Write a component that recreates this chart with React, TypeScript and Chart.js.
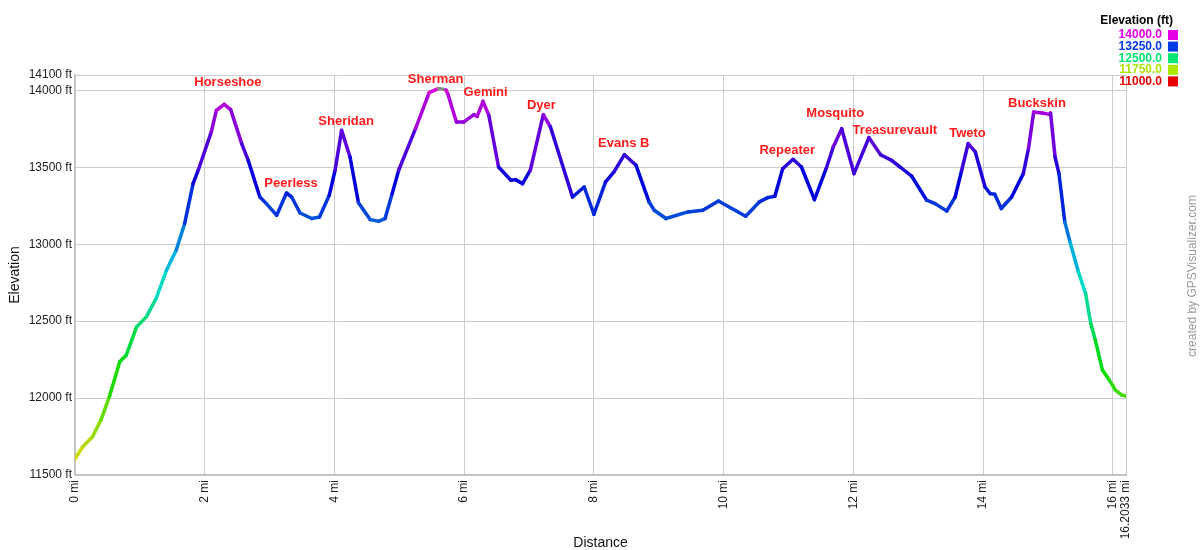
import { useEffect, useRef } from "react";
import { Chart, registerables } from "chart.js";

Chart.register(...registerables);

// Distance along the route (miles)
const distances = [
  0.0, 0.12, 0.27, 0.4, 0.53, 0.69, 0.79, 0.95, 1.1, 1.25, 1.41, 1.56, 1.69, 1.82, 1.9,
  2.1, 2.18, 2.3, 2.4, 2.57, 2.67, 2.85, 2.95, 3.11, 3.26, 3.34, 3.47, 3.65, 3.77, 3.92,
  4.01, 4.11, 4.24, 4.37, 4.55, 4.68, 4.78, 4.89, 4.99, 5.25, 5.46, 5.6, 5.67, 5.72, 5.75,
  5.88, 5.99, 6.15, 6.2, 6.29, 6.38, 6.53, 6.72, 6.79, 6.9, 7.02, 7.22, 7.33, 7.67, 7.85,
  8.0, 8.18, 8.31, 8.47, 8.65, 8.85, 8.93, 9.11, 9.45, 9.68, 9.92, 10.34, 10.55, 10.68,
  10.79, 10.91, 11.07, 11.2, 11.4, 11.58, 11.69, 11.82, 12.01, 12.24, 12.42, 12.59, 12.72,
  12.9, 13.13, 13.26, 13.44, 13.57, 13.67, 13.77, 13.88, 14.03, 14.11, 14.18, 14.28, 14.44,
  14.62, 14.7, 14.78, 14.91, 15.02, 15.04, 15.11, 15.17, 15.26, 15.34, 15.47, 15.58, 15.66,
  15.73, 15.84, 15.94, 16.04, 16.14, 16.2033,
];

// Elevation (ft)
const elevations = [
  11605, 11684, 11749, 11857, 12009, 12236, 12279, 12463, 12528, 12647, 12831, 12961, 13134, 13394, 13481,
  13729, 13870, 13909, 13875, 13654, 13545, 13307, 13264, 13188, 13333, 13307, 13203, 13167, 13177, 13318,
  13481, 13740, 13567, 13270, 13160, 13149, 13167, 13329, 13481, 13751, 13985, 14012, 14008, 14002, 13975,
  13794, 13794, 13842, 13831, 13929, 13838, 13502, 13416, 13420, 13394, 13481, 13842, 13762, 13307, 13372,
  13195, 13405, 13470, 13582, 13513, 13275, 13221, 13167, 13210, 13221, 13281, 13182, 13275, 13303,
  13312, 13491, 13552, 13502, 13290, 13491, 13632, 13751, 13459, 13693, 13582, 13545, 13502,
  13442, 13286, 13264, 13216, 13307, 13481, 13654, 13600, 13372, 13329, 13325, 13232, 13307,
  13459, 13621, 13859, 13853, 13844, 13853, 13567, 13459, 13145, 13015, 12820, 12680, 12485,
  12377, 12182, 12121, 12052, 12019, 12013,
];

const xTickValues = [0, 2, 4, 6, 8, 10, 12, 14, 16, 16.2033];
const yTickValues = [11500, 12000, 12500, 13000, 13500, 14000, 14100];

// Peak names and where their labels sit (miles, ft)
const peakNames = ["Horseshoe", "Peerless", "Sheridan", "Sherman", "Gemini", "Dyer", "Evans B", "Repeater", "Mosquito", "Treasurevault", "Tweto", "Buckskin"];
const peakLabelMiles = [2.357, 3.33, 4.18, 5.56, 6.33, 7.19, 8.46, 10.98, 11.72, 12.64, 13.76, 14.83];
const peakLabelElevs = [14052, 13396, 13799, 14071, 13987, 13903, 13656, 13610, 13851, 13740, 13721, 13916];

const legendValues = [14000, 13250, 12500, 11750, 11000];

const FONT = '"Liberation Sans", Arial, sans-serif';

function hueColor(e: number, light = 43): string {
  const hue = Math.max(0, Math.min(300, ((e - 11000) / 3000) * 300));
  return `hsl(${hue}, 100%, ${light}%)`;
}

function lineColor(e: number): string {
  if (e >= 14000) return "#8c8c8c";
  return hueColor(e, 43);
}

const overlayPlugin = {
  id: "overlay",
  afterDraw(chart: any) {
    const ctx = chart.ctx as CanvasRenderingContext2D;
    const xs = chart.scales.x;
    const ys = chart.scales.y;
    ctx.save();
    // peak labels
    ctx.font = `bold 13px ${FONT}`;
    ctx.fillStyle = "#ff1a1a";
    ctx.textAlign = "center";
    ctx.textBaseline = "middle";
    peakNames.forEach((n, i) => {
      ctx.fillText(n, xs.getPixelForValue(peakLabelMiles[i]), ys.getPixelForValue(peakLabelElevs[i]));
    });

    // axis titles
    ctx.fillStyle = "#111";
    ctx.font = `14px ${FONT}`;
    ctx.textAlign = "center";
    ctx.fillText("Distance", (chart.chartArea.left + chart.chartArea.right) / 2, 543);
    ctx.save();
    ctx.translate(15, 275);
    ctx.rotate(-Math.PI / 2);
    ctx.fillText("Elevation", 0, 0);
    ctx.restore();

    // watermark
    ctx.save();
    ctx.fillStyle = "#999";
    ctx.font = `12px ${FONT}`;
    ctx.translate(1193, 276);
    ctx.rotate(-Math.PI / 2);
    ctx.fillText("created by GPSVisualizer.com", 0, 0);
    ctx.restore();

    // legend
    ctx.textAlign = "right";
    ctx.fillStyle = "#000";
    ctx.font = `bold 12px ${FONT}`;
    ctx.fillText("Elevation (ft)", 1173, 21);
    legendValues.forEach((v, i) => {
      const y = 35 + i * 11.6;
      ctx.fillStyle = hueColor(v, 45);
      ctx.font = `bold 12px ${FONT}`;
      ctx.fillText(v.toFixed(1), 1162, y);
      ctx.fillRect(1168, y - 5, 10, 10);
    });
    ctx.restore();
  },
};

export default function App() {
  const ref = useRef<HTMLCanvasElement | null>(null);
  useEffect(() => {
    if (!ref.current) return;
    const chart = new Chart(ref.current, {
      type: "line",
      data: {
        datasets: [
          {
            data: distances.map((d, i) => ({ x: d, y: elevations[i] })),
            borderWidth: 3.5,
            pointRadius: 0,
            tension: 0,
            borderColor: "#0050e0",
            borderCapStyle: "round",
            borderJoinStyle: "round",
            segment: {
              borderColor: (c: any) => lineColor((c.p0.parsed.y + c.p1.parsed.y) / 2),
            },
          } as any,
        ],
      },
      options: {
        responsive: false,
        animation: false,
        layout: { padding: { top: 75, right: 74, left: 0, bottom: 0 } },
        plugins: { legend: { display: false }, tooltip: { enabled: false } },
        events: [],
        scales: {
          x: {
            type: "linear",
            min: 0,
            max: 16.2033,
            afterBuildTicks: (s: any) => {
              s.ticks = xTickValues.map((v) => ({ value: v }));
            },
            afterFit: (s: any) => {
              s.height = 75;
            },
            ticks: {
              autoSkip: false,
              maxRotation: 90,
              minRotation: 90,
              padding: 5,
              color: "#222",
              font: { family: FONT, size: 12 },
              callback: (v: any) => `${v} mi`,
            },
            grid: { color: "#cccccc", drawTicks: false },
            border: { color: "#c4c4c4", width: 2 },
          },
          y: {
            type: "linear",
            min: 11500,
            max: 14100,
            afterBuildTicks: (s: any) => {
              s.ticks = yTickValues.map((v) => ({ value: v }));
            },
            afterFit: (s: any) => {
              s.width = 75;
            },
            ticks: {
              autoSkip: false,
              padding: 3,
              color: "#222",
              font: { family: FONT, size: 12 },
              callback: (v: any) => `${v} ft`,
            },
            grid: { color: "#cccccc", drawTicks: false },
            border: { color: "#c4c4c4", width: 2 },
          },
        },
      } as any,
      plugins: [overlayPlugin],
    });
    return () => chart.destroy();
  }, []);
  return (
    <div style={{ position: "absolute", left: 0, top: 0, width: 1200, height: 550, background: "#fff" }}>
      <canvas ref={ref} width={1200} height={550} style={{ display: "block" }} />
    </div>
  );
}
